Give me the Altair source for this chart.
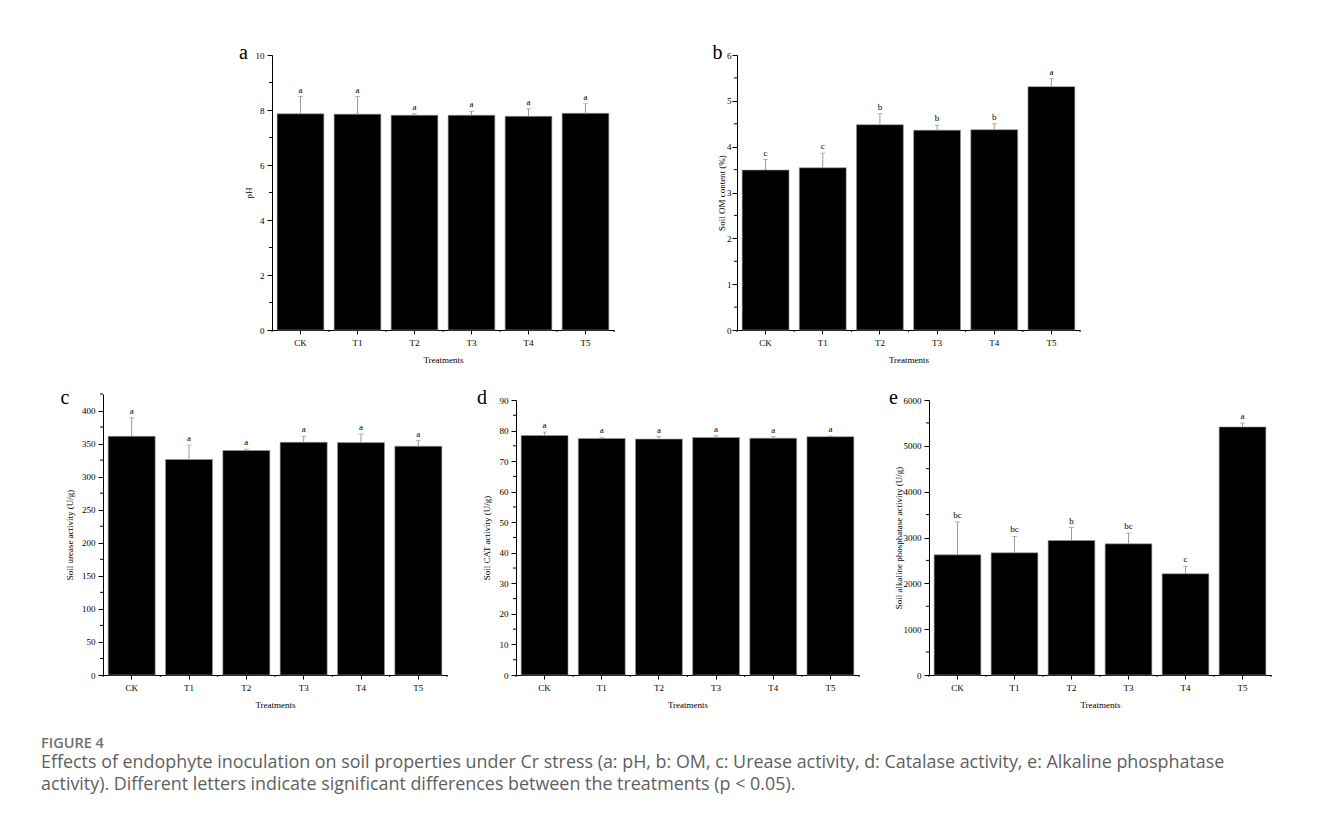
import altair as alt
import pandas as pd

treatments = ["CK", "T1", "T2", "T3", "T4", "T5"]

ph_mean = [7.86, 7.85, 7.81, 7.81, 7.77, 7.88]
ph_err = [0.63, 0.64, 0.05, 0.14, 0.27, 0.35]
ph_sig = ["a", "a", "a", "a", "a", "a"]

om_mean = [3.49, 3.54, 4.48, 4.36, 4.37, 5.31]
om_err = [0.23, 0.32, 0.24, 0.11, 0.13, 0.17]
om_sig = ["c", "c", "b", "b", "b", "a"]

urease_mean = [361, 326, 339.5, 352, 351.5, 346]
urease_err = [28, 21.5, 2, 9, 13, 8.5]
urease_sig = ["a", "a", "a", "a", "a", "a"]

cat_mean = [78.4, 77.4, 77.2, 77.7, 77.5, 78.0]
cat_err = [1.1, 0.4, 0.8, 0.6, 0.5, 0.2]
cat_sig = ["a", "a", "a", "a", "a", "a"]

alp_mean = [2622, 2666, 2935, 2862, 2208, 5412]
alp_err = [719, 356, 283, 232, 160, 87]
alp_sig = ["bc", "bc", "b", "bc", "c", "a"]

caption_head = "FIGURE 4"
caption_lines = [
    "Effects of endophyte inoculation on soil properties under Cr stress (a: pH, b: OM, c: Urease activity, d: Catalase activity, e: Alkaline phosphatase",
    "activity). Different letters indicate significant differences between the treatments (p < 0.05).",
]

SERIF = "Liberation Serif"


def panel(letter, means, errs, sigs, ytitle, ymax, major, minor, width, height,
          yrange=None, letter_dy=28, label_pad=3, title_pad=4):
    df = pd.DataFrame({
        "Treatment": treatments,
        "mean": means,
        "top": [m + e for m, e in zip(means, errs)],
        "sig": sigs,
    })
    last = df[df["Treatment"] == treatments[-1]]
    minor_df = pd.DataFrame({"v": minor})

    sc = dict(domain=[0, ymax], nice=False, zero=True)
    if yrange is not None:
        sc["range"] = yrange
    yscale = alt.Scale(**sc)
    xscale = alt.Scale(paddingInner=0, paddingOuter=0)
    xaxis = alt.Axis(title="Treatments", labelAngle=0, tickSize=4,
                     labelPadding=4, titlePadding=8)
    yaxis = alt.Axis(title=ytitle, values=major, tickSize=5, format="d",
                     labelPadding=label_pad, titlePadding=title_pad)

    def X(**kw):
        return alt.X("Treatment:N", sort=treatments, scale=xscale, axis=xaxis, **kw)

    def Y(field):
        return alt.Y(field, scale=yscale, axis=yaxis)

    base = alt.Chart(df)
    bars = base.mark_bar(color="black", stroke="#9a9a9a", strokeWidth=0.6,
                         width=alt.RelativeBandSize(0.82)).encode(
        x=X(), y=Y("mean:Q"))
    err = base.mark_rule(color="#9a9a9a", strokeWidth=1).encode(
        x=X(), y=Y("mean:Q"), y2="top:Q")
    cap = base.mark_tick(color="#9a9a9a", size=5, thickness=1).encode(
        x=X(), y=Y("top:Q"))
    lab = base.mark_text(font=SERIF, fontSize=9, baseline="bottom", dy=-2,
                         color="black").encode(
        x=X(), y=Y("top:Q"), text="sig:N")
    yminor = alt.Chart(minor_df).mark_rule(color="black").encode(
        x=alt.value(-3), x2=alt.value(0), y=Y("v:Q"))
    xminor = base.mark_rule(color="black").encode(
        x=X(bandPosition=0), y=alt.value(height), y2=alt.value(height + 2))
    xminor_end = alt.Chart(last).mark_rule(color="black").encode(
        x=X(bandPosition=1), y=alt.value(height), y2=alt.value(height + 2))
    return alt.layer(bars, err, cap, lab, yminor, xminor, xminor_end).properties(
        width=width, height=height,
        title=alt.TitleParams(text=letter, orient="top", anchor="start",
                              frame="bounds", dx=-5, dy=letter_dy, offset=0,
                              baseline="alphabetic", font=SERIF, fontSize=20,
                              fontWeight="normal", color="black"),
    )


pa = panel("a", ph_mean, ph_err, ph_sig, "pH", 10,
           [0, 2, 4, 6, 8, 10], [1, 3, 5, 7, 9], 342, 275,
           letter_dy=28, label_pad=3, title_pad=2)
pb = panel("b", om_mean, om_err, om_sig, "Soil OM content (%)", 6,
           [0, 1, 2, 3, 4, 5, 6], [0.5, 1.5, 2.5, 3.5, 4.5, 5.5], 343, 275,
           letter_dy=28, label_pad=1, title_pad=0)
pc = panel("c", urease_mean, urease_err, urease_sig, "Soil urease activity (U/g)",
           425, [0, 50, 100, 150, 200, 250, 300, 350, 400],
           [25, 75, 125, 175, 225, 275, 325, 375, 425], 344, 281,
           letter_dy=30, label_pad=3, title_pad=7)
pd_ = panel("d", cat_mean, cat_err, cat_sig, "Soil CAT activity (U/g)", 90,
            [0, 10, 20, 30, 40, 50, 60, 70, 80, 90],
            [5, 15, 25, 35, 45, 55, 65, 75, 85], 343, 281, yrange=[281, 6],
            letter_dy=30, label_pad=3, title_pad=8)
pe = panel("e", alp_mean, alp_err, alp_sig,
           "Soil alkaline phosphatase activity (U/g)", 6000,
           [0, 1000, 2000, 3000, 4000, 5000, 6000],
           [500, 1500, 2500, 3500, 4500, 5500], 342, 281, yrange=[281, 6],
           letter_dy=30, label_pad=3, title_pad=0)

spacer = alt.Chart(pd.DataFrame({"s": [0]})).mark_point(opacity=0).properties(
    width=39, height=10)

row1 = alt.hconcat(spacer, pa, pb, spacing=97)
row2 = alt.hconcat(pc, pd_, pe, spacing=29)

chart = alt.vconcat(row1, row2, spacing=23).properties(
    padding={"left": 33, "top": 35, "right": 5, "bottom": 5},
    title=alt.TitleParams(
        text=caption_head, subtitle=caption_lines, orient="bottom",
        anchor="start", frame="group", dx=-62, offset=39, baseline="alphabetic",
        font="Open Sans", fontSize=14.5, fontWeight=600, color="#707070",
        subtitleFont="Open Sans", subtitleFontSize=17.9, subtitleColor="#606060",
        subtitleLineHeight=22, subtitlePadding=5,
    ),
).configure_view(stroke=None).configure_axis(
    labelFont=SERIF, labelFontSize=9, labelColor="black",
    titleFont=SERIF, titleFontSize=9, titleFontWeight="normal", titleColor="black",
    domainColor="black", tickColor="black", grid=False,
)

chart.save("out.html", embed_options={"renderer": "svg", "actions": False})
